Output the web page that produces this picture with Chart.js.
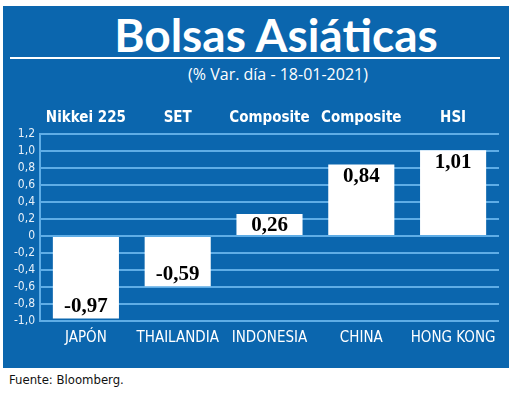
<!DOCTYPE html>
<html>
<head>
<meta charset="utf-8">
<script src="https://cdn.jsdelivr.net/npm/chart.js@4.4.1/dist/chart.umd.min.js"></script>
<style>
  body { margin: 0; width: 520px; height: 399px; background: #fff; position: relative; overflow: hidden; }
  #panel { position: absolute; left: 3px; top: 6px; width: 506px; height: 362px; background: #0b66ae; }
  #title { position: absolute; left: 40px; width: 472px; top: 7px; text-align: center; color: #fff;
           font: bold 46px Lato, sans-serif; }
  #rule { position: absolute; left: 10px; width: 490px; top: 57px; height: 2px; background: #fff; }
  #sub { position: absolute; left: 40px; width: 476px; top: 63px; text-align: center; color: #fff;
         font: 16px "Open Sans", sans-serif; }
  #src { position: absolute; left: 9px; top: 372px; color: #111; font: 13px "DejaVu Sans Condensed", sans-serif; }
  canvas { position: absolute; left: 0; top: 0; }
</style>
</head>
<body>
<div id="panel"></div>
<div id="title">Bolsas Asiáticas</div>
<div id="rule"></div>
<div id="sub">(% Var. día - 18-01-2021)</div>
<div id="src">Fuente: Bloomberg.</div>
<canvas id="chart" width="520" height="399"></canvas>
<script>
const countries = ['JAPÓN', 'THAILANDIA', 'INDONESIA', 'CHINA', 'HONG KONG'];
const indexNames = ['Nikkei 225', 'SET', 'Composite', 'Composite', 'HSI'];
const changes = [-0.97, -0.59, 0.26, 0.84, 1.01];
const yMin = -1.0, yMax = 1.2, yStep = 0.2;

const gridBlue = '#5fade6';
const condensed = '"DejaVu Sans Condensed", "DejaVu Sans", sans-serif';

function fmt(v, d) {
    if (Math.abs(v) < 1e-9) return '0';
    return v.toFixed(d).replace('.', ',');
}

// etiquetas de valor dentro de cada barra, en el extremo
const valueLabels = {
    id: 'valueLabels',
    afterDatasetsDraw(chart) {
        const ctx = chart.ctx;
        const meta = chart.getDatasetMeta(0);
        ctx.save();
        ctx.font = 'bold 21px "Liberation Serif"';
        ctx.fillStyle = '#000';
        ctx.textAlign = 'center';
        ctx.textBaseline = 'middle';
        meta.data.forEach((bar, i) => {
            const v = changes[i];
            ctx.fillText(fmt(v, 2), bar.x, bar.y + (v >= 0 ? 12 : -12));
        });
        ctx.restore();
    }
};

new Chart(document.getElementById('chart').getContext('2d'), {
    type: 'bar',
    data: {
        labels: countries,
        datasets: [{
            data: changes,
            backgroundColor: '#ffffff',
            borderWidth: 0,
            barPercentage: 0.72,
            categoryPercentage: 1.0
        }]
    },
    options: {
        responsive: false,
        animation: false,
        layout: { padding: { left: 0, right: 21, top: 0, bottom: 0 } },
        plugins: { legend: { display: false }, tooltip: { enabled: false } },
        scales: {
            x: {
                position: 'bottom',
                offset: true,
                grid: { display: false, drawTicks: false },
                border: { display: false },
                ticks: { color: '#fff', padding: 8, autoSkip: false, maxRotation: 0,
                         font: { family: condensed, size: 15 } },
                afterFit: s => { s.height = 78; }
            },
            x2: {
                type: 'category',
                labels: indexNames,
                position: 'top',
                offset: true,
                grid: { display: false, drawTicks: false },
                border: { display: false },
                ticks: { color: '#fff', padding: 7, autoSkip: false, maxRotation: 0,
                         font: { family: condensed, size: 15, weight: 'bold' } },
                afterFit: s => { s.height = 134; }
            },
            y: {
                min: yMin,
                max: yMax,
                ticks: {
                    stepSize: yStep,
                    autoSkip: false,
                    color: '#e8f0f8',
                    padding: 5,
                    font: { family: condensed, size: 12 },
                    callback: v => fmt(v, Math.abs(v) < 1e-9 ? 0 : 1)
                },
                grid: { color: gridBlue, lineWidth: 2, drawTicks: false },
                border: { display: true, color: gridBlue, width: 2 },
                afterFit: s => { s.width = 40; }
            }
        }
    },
    plugins: [valueLabels]
});
</script>
</body>
</html>
